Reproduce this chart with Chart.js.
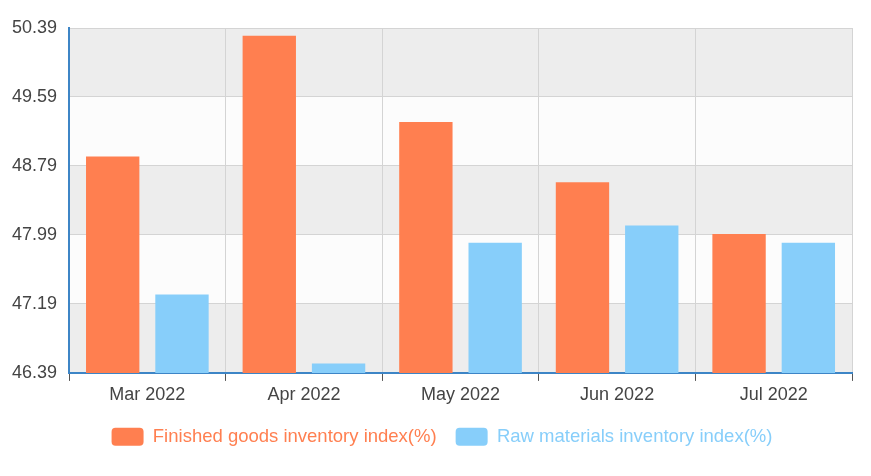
<!DOCTYPE html>
<html>
<head>
<meta charset="utf-8">
<script src="https://cdn.jsdelivr.net/npm/chart.js@4"></script>
<style>
  html, body { margin: 0; padding: 0; background: #fff; }
  #wrap { width: 871px; height: 476px; }
</style>
</head>
<body>
<div id="wrap"><canvas id="chart"></canvas></div>
<script>
const months = ["Mar 2022", "Apr 2022", "May 2022", "Jun 2022", "Jul 2022"];
const finishedGoods = [48.9, 50.3, 49.3, 48.6, 48.0];
const rawMaterials = [47.3, 46.5, 47.9, 48.1, 47.9];
const yTicks = [46.39, 47.19, 47.99, 48.79, 49.59, 50.39];

const FONT = "'Liberation Sans', Arial, sans-serif";

// alternating grey / white bands between the y ticks
const bandPlugin = {
    id: "bands",
    afterLayout(chart) {
        // legend sits a little right of the canvas centre in the original
        if (chart.legend) {
            chart.legend.left += 16;
            chart.legend.right += 16;
        }
    },
    beforeDraw(chart) {
        const ctx = chart.ctx;
        const area = chart.chartArea;
        const y = chart.scales.y;
        ctx.save();
        for (let i = 0; i < yTicks.length - 1; i++) {
            const top = y.getPixelForValue(yTicks[i + 1]);
            const bottom = y.getPixelForValue(yTicks[i]);
            ctx.fillStyle = (i % 2 === 0) ? "#ededed" : "#fcfcfc";
            ctx.fillRect(area.left, top, area.right - area.left, bottom - top);
        }
        ctx.restore();
    }
};

new Chart(document.getElementById("chart"), {
    type: "bar",
    data: {
        labels: months,
        datasets: [{
            label: "Finished goods inventory index(%)",
            data: finishedGoods,
            backgroundColor: "#ff7f50",
            barPercentage: 0.77,
            categoryPercentage: 0.885
        }, {
            label: "Raw materials inventory index(%)",
            data: rawMaterials,
            backgroundColor: "#87cefa",
            barPercentage: 0.77,
            categoryPercentage: 0.885
        }]
    },
    options: {
        responsive: true,
        maintainAspectRatio: false,
        animation: false,
        layout: { padding: { top: 28, right: 19, left: 0, bottom: 20 } },
        scales: {
            x: {
                grid: {
                    offset: true,
                    color: "#d4d4d4",
                    tickColor: "#555",
                    tickLength: 8,
                    lineWidth: 1
                },
                border: { color: "#3d85c6", width: 2 },
                ticks: {
                    color: "#444",
                    padding: 3,
                    font: { family: FONT, size: 18 }
                }
            },
            y: {
                min: 46.39,
                max: 50.39,
                afterBuildTicks: (axis) => {
                    axis.ticks = yTicks.map(v => ({ value: v }));
                },
                grid: { color: "#d4d4d4", drawTicks: false },
                border: { color: "#3d85c6", width: 2 },
                ticks: {
                    color: "#444",
                    padding: 12,
                    callback: (v) => v.toFixed(2),
                    font: { family: FONT, size: 18 }
                }
            }
        },
        plugins: {
            legend: {
                position: "bottom",
                labels: {
                    boxWidth: 32,
                    boxHeight: 18,
                    useBorderRadius: true,
                    borderRadius: 4,
                    padding: 19,
                    font: { family: FONT, size: 18.5 },
                    generateLabels: (chart) => chart.data.datasets.map((ds, i) => ({
                        text: ds.label,
                        fillStyle: ds.backgroundColor,
                        strokeStyle: ds.backgroundColor,
                        fontColor: ds.backgroundColor,
                        lineWidth: 0,
                        borderRadius: 4,
                        datasetIndex: i,
                        hidden: !chart.isDatasetVisible(i)
                    }))
                }
            },
            tooltip: { enabled: false }
        }
    },
    plugins: [bandPlugin]
});
</script>
</body>
</html>
